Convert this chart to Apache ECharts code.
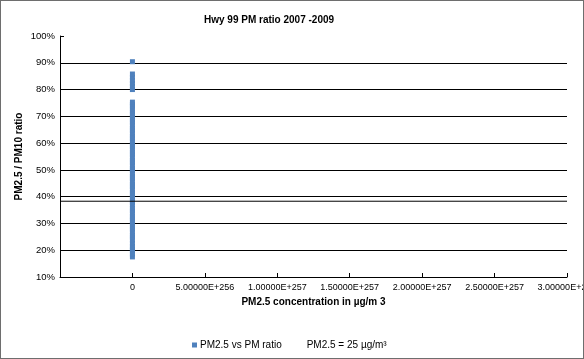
<!DOCTYPE html>
<html>
<head>
<meta charset="utf-8">
<script src="https://cdn.jsdelivr.net/npm/echarts@6/dist/echarts.min.js"></script>
<style>
html,body{margin:0;padding:0;background:#fff;}
#c{width:584px;height:359px;position:absolute;left:0;top:0;}
#b{position:absolute;left:0;top:0;width:584px;height:359px;box-sizing:border-box;border:1px solid #6e6e6e;pointer-events:none;}
</style>
</head>
<body>
<div id="c"></div>
<div id="b"></div>
<script>
var titleText = 'Hwy 99 PM ratio 2007 -2009';
var seriesName = 'PM2.5 vs PM ratio';
var refLineName = 'PM2.5 = 25 µg/m³';
var xAxisName = 'PM2.5 concentration in µg/m 3';
var yAxisName = 'PM2.5 / PM10 ratio';
// PM2.5 concentration (all plotted at 0 in the source chart)
var concentration = 0;
// PM2.5/PM10 ratio values
var ratios = [0.175,0.186,0.197,0.205,0.214,0.226,0.238,0.249,0.256,0.268,0.279,0.287,0.298,0.309,0.318,0.326,0.338,0.347,0.356,0.369,0.378,0.386,0.397,0.408,0.416,0.427,0.438,0.446,0.457,0.468,0.476,0.487,0.498,0.506,0.517,0.528,0.536,0.547,0.558,0.566,0.577,0.588,0.596,0.607,0.618,0.626,0.637,0.648,0.656,0.667,0.678,0.686,0.697,0.708,0.716,0.727,0.738,0.745,0.753,
  0.800,0.812,0.823,0.834,0.846,0.858,
  0.904];
// reference line (PM2.5 = 25 µg/m³) ratio level
var refLineRatio = 0.383;
var xMin = -5e256, xMax = 3e257, xInterval = 5e256;
var yMin = 0.1, yMax = 1.0, yInterval = 0.1;

var pts = ratios.map(function(r){ return [concentration, r]; });
var refPts = [[xMin, refLineRatio],[xMax, refLineRatio]];
var font = '"Liberation Sans", Arial, sans-serif';

var chart = echarts.init(document.getElementById('c'));
chart.setOption({
  animation: false,
  title: {
    text: titleText, left: 199, top: 10,
    textStyle: {fontFamily: font, fontSize: 10, fontWeight: 'bold', color: '#000'}
  },
  grid: {left: 60, right: 17, top: 36, bottom: 82, containLabel: false, outerBoundsMode: 'none'},
  legend: {
    left: 187, top: 335, itemWidth: 5, itemHeight: 5, itemGap: 17,
    textStyle: {fontFamily: font, fontSize: 10, color: '#000', padding:[0,0,0,-2]},
    data: [
      {name: seriesName, icon: 'rect'},
      {name: refLineName, icon: 'rect', itemStyle: {opacity: 0}}
    ]
  },
  xAxis: {
    type: 'value', min: xMin, max: xMax, interval: xInterval,
    name: xAxisName, nameLocation: 'middle', nameGap: 13,
    nameTextStyle: {fontFamily: font, fontSize: 10, fontWeight: 'bold', color: '#000'},
    axisLine: {onZero: false, lineStyle: {color: '#000', width: 1}},
    axisTick: {inside: true, length: 4, lineStyle: {color: '#000'}},
    splitLine: {show: false},
    axisLabel: {
      showMinLabel: false, interval: 0, hideOverlap: false, margin: 6,
      fontFamily: font, fontSize: 9, color: '#000',
      formatter: function(v){ if (Math.abs(v) < 1e250) return '0'; return v.toExponential(5).toUpperCase(); }
    }
  },
  yAxis: {
    type: 'value', min: yMin, max: yMax, interval: yInterval,
    name: yAxisName, nameLocation: 'middle', nameGap: 36, nameMoveOverlap: false,
    nameTextStyle: {fontFamily: font, fontSize: 10, fontWeight: 'bold', color: '#000'},
    axisLine: {show: true, onZero: false, lineStyle: {color: '#000', width: 1}},
    axisTick: {show: true, inside: true, length: 4, lineStyle: {color: '#000'}},
    splitLine: {show: true, showMinLine: false, showMaxLine: false, lineStyle: {color: '#000', width: 1}},
    axisLabel: {
      margin: 5, fontFamily: font, fontSize: 9.5, color: '#000',
      formatter: function(v){ return Math.round(v*100) + '%'; }
    }
  },
  series: [
    {
      name: seriesName, type: 'scatter', data: pts,
      symbol: 'rect', symbolSize: [5,5],
      itemStyle: {color: '#4f81bd', opacity: 1}
    },
    {
      name: refLineName, type: 'line', data: refPts,
      symbol: 'none', lineStyle: {color: '#000', width: 1},
      itemStyle: {color: '#000'}
    }
  ]
});
</script>
</body>
</html>
